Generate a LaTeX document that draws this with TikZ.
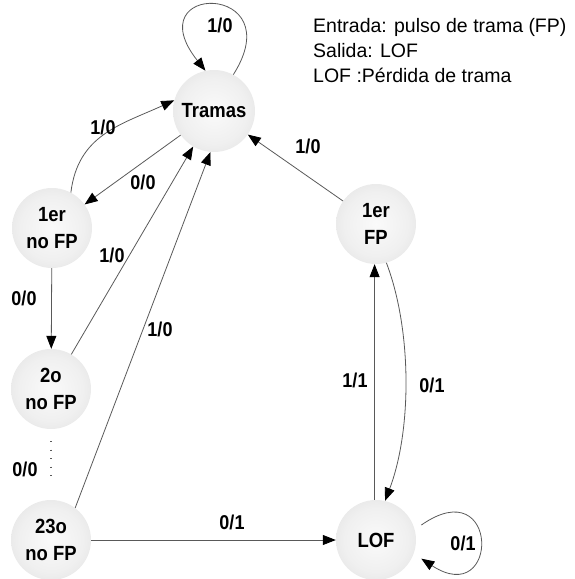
\documentclass[tikz,border=0pt]{standalone}
\usepackage{fontspec}
\setmainfont{Liberation Sans}
\newfontfamily\lblfont{Liberation Sans}[FakeStretch=0.9]
\usetikzlibrary{arrows.meta}
\pgfdeclareradialshading{ballgray}{\pgfpoint{0bp}{0bp}}{color(0bp)=(black!2); color(20bp)=(black!6); color(40bp)=(black!14); color(50bp)=(black!22)}
\tikzset{
  state/.style={circle, minimum size=80pt, inner sep=0pt, shading=ballgray, align=center,
    font=\lblfont\fontsize{20.5}{27}\selectfont\bfseries},
  lbl/.style={inner sep=0pt, font=\lblfont\fontsize{20}{22}\selectfont\bfseries},
  edge/.style={draw=black!65, line width=0.8pt, -{Triangle[length=13pt,width=10pt,color=black]}},
  plain/.style={draw=black!65, line width=0.8pt},
  info/.style={inner sep=0pt, anchor=base west, font=\fontsize{19.5}{24}\selectfont}
}
\begin{document}
\begin{tikzpicture}[x=1pt,y=-1pt]
\useasboundingbox (0,0) rectangle (575,579);
% states
\node[state, minimum size=82pt] (T) at (214,111) {Tramas};
\node[state] (N1) at (52,228) {1er\\no FP};
\node[state] (N2) at (51,389) {2o\\no FP};
\node[state] (N3) at (51,540) {23o\\no FP};
\node[state] (F1) at (376,224) {1er\\FP};
\node[state] (L) at (376,540) {LOF};
% info text
\node[info] (i1) at (313,32) {Entrada: pulso de trama (FP)};
\node[info] (i2) at (313,57) {Salida: LOF};
\node[info] (i3) at (313,82) {LOF :Pérdida de trama};
% edges
\draw[edge] (T.62) .. controls (292,-18) and (135,-18) .. (T.102);
\draw[edge] (N1.62) .. controls (78,135) and (120,125) .. (T.165);
\draw[edge] (T) -- (N1);
\draw[edge] (N2) -- (T);
\draw[edge] (N3.53) -- (T.-95);
\draw[edge] (N1) -- (N2);
\draw[plain, line width=1.2pt, dash pattern=on 1pt off 7.5pt, shorten <=12pt, shorten >=24pt] (N2) -- (N3);
\draw[edge] (N3) -- (L);
\draw[edge] (F1) -- (T);
\draw[edge] (L.92) -- (F1.-92);
\draw[edge] (F1.-75) .. controls (412,330) and (412,430) .. (L.77);
\draw[edge, shorten <=8pt, shorten >=9pt] (L.15) .. controls (500,470) and (500,610) .. (L.-20);
% labels
\node[lbl] (l1) at (220,25) {1/0};
\node[lbl] (l2) at (103,127) {1/0};
\node[lbl] (l3) at (143,182) {0/0};
\node[lbl] (l4) at (308,146) {1/0};
\node[lbl] (l5) at (112,255) {1/0};
\node[lbl] (l6) at (24,298) {0/0};
\node[lbl] (l7) at (160,329) {1/0};
\node[lbl] (l8) at (25,469) {0/0};
\node[lbl] (l9) at (355,380) {1/1};
\node[lbl] (l10) at (432,385) {0/1};
\node[lbl] (l11) at (232,522) {0/1};
\node[lbl] (l12) at (463,543) {0/1};
\end{tikzpicture}
\end{document}
